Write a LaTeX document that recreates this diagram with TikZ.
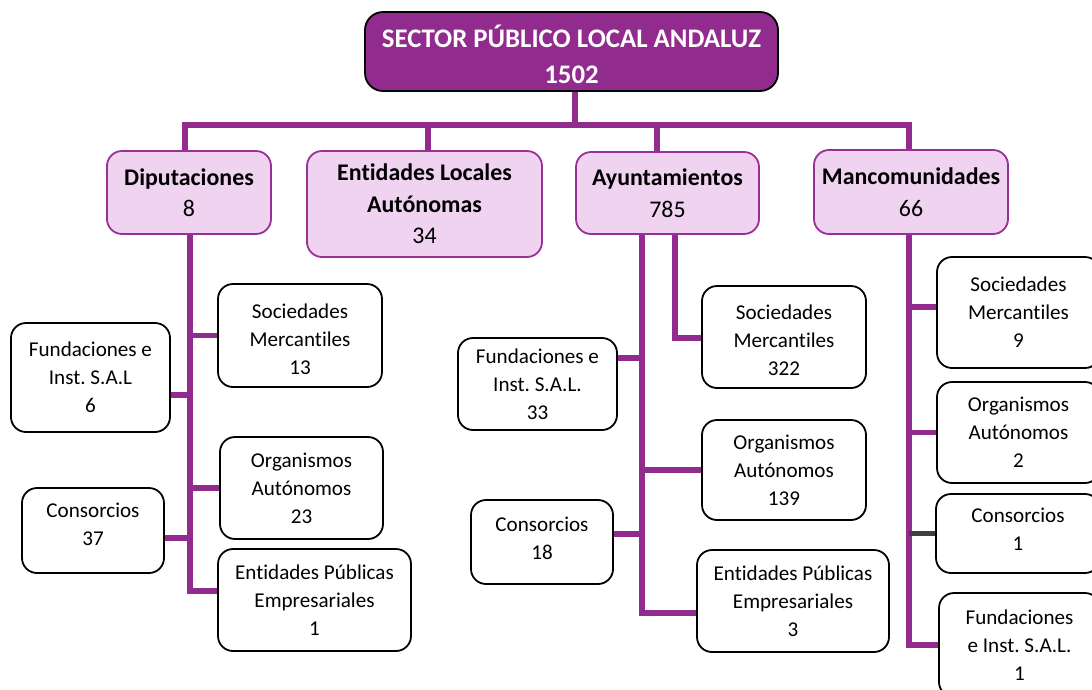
\documentclass[tikz,border=0pt]{standalone}
\usepackage{fontspec}
\setmainfont[Ligatures=NoCommon]{Carlito}
\usetikzlibrary{calc,backgrounds}
\definecolor{pmain}{RGB}{146,43,142}
\definecolor{plight}{RGB}{240,211,240}
\definecolor{pedge}{RGB}{152,48,152}
\definecolor{dgray}{RGB}{64,64,64}
\frenchspacing
\begin{document}
\begin{tikzpicture}[x=1pt,y=-1pt,
 topbox/.style={draw=black, line width=1.8pt, fill=pmain, rounded corners=18pt, inner sep=0pt},
 toptext/.style={text=white, font=\fontsize{26.8}{36}\selectfont\bfseries, align=center, inner sep=0pt},
 headbox/.style={draw=pedge, line width=1.8pt, fill=plight, rounded corners=15pt, font=\fontsize{23.9}{31.5}\selectfont, align=center, inner sep=0pt},
 childbox/.style={draw=black, line width=1.8pt, fill=white, rounded corners=15pt, font=\fontsize{21.1}{28}\selectfont, align=center, inner sep=0pt},
 childtext/.style={font=\fontsize{21.1}{28}\selectfont, align=center, inner sep=0pt},
 conn/.style={draw=pmain, line width=5.5pt, line join=miter},
 connd/.style={draw=dgray, line width=5.5pt},
]
\useasboundingbox (0,0) rectangle (1092,689);
\clip (0,0) rectangle (1092,689);

% top
\node[topbox, minimum width=413pt, minimum height=79pt] (top) at (571.5,51.5) {};
\node[toptext] (topt) at ($(top)+(0,3)$) {SECTOR PÚBLICO LOCAL ANDALUZ\\1502};

% headers
\node[headbox, minimum width=164pt, minimum height=83pt] (dip) at (189,192.5) {\textbf{Diputaciones}\\8};
\node[headbox, minimum width=235pt, minimum height=106pt] (ela) at (424.5,204) {\textbf{Entidades Locales}\\\textbf{Autónomas}\\34};
\node[headbox, minimum width=183pt, minimum height=82pt] (ayu) at (667.5,193) {\textbf{Ayuntamientos}\\785};
\node[headbox, minimum width=194pt, minimum height=84pt] (man) at (911,192) {\textbf{Mancomunidades}\\66};

% Diputaciones children
\node[childbox, minimum width=164pt, minimum height=103pt] (sm13) at (300,335.5) {};
\node[childtext] (sm13t) at ($(sm13)+(0,4)$) {Sociedades\\Mercantiles\\13};
\node[childbox, minimum width=159pt, minimum height=109pt] (fund6) at (90.5,377.5) {Fundaciones e\\Inst. S.A.L\\6};
\node[childbox, minimum width=163pt, minimum height=102pt] (org23) at (301.5,488) {Organismos\\Autónomos\\23};
\node[childbox, minimum width=142pt, minimum height=85pt] (con37) at (93,530.5) {};
\node[childtext] (con37t) at ($(con37)+(0,-6)$) {Consorcios\\37};
\node[childbox, minimum width=193pt, minimum height=102pt] (epe1) at (314.5,600) {Entidades Públicas\\Empresariales\\1};

% Ayuntamientos children
\node[childbox, minimum width=164pt, minimum height=102pt] (sm322) at (784,337) {};
\node[childtext] (sm322t) at ($(sm322)+(0,3)$) {Sociedades\\Mercantiles\\322};
\node[childbox, minimum width=159pt, minimum height=92pt] (fund33) at (537.5,384) {Fundaciones e\\Inst. S.A.L.\\33};
\node[childbox, minimum width=164pt, minimum height=100pt] (org139) at (784,470) {Organismos\\Autónomos\\139};
\node[childbox, minimum width=142pt, minimum height=84pt] (con18) at (542,542) {};
\node[childtext] (con18t) at ($(con18)+(0,-4)$) {Consorcios\\18};
\node[childbox, minimum width=192pt, minimum height=102pt] (epe3) at (793,601) {Entidades Públicas\\Empresariales\\3};

% Mancomunidades children
\node[childbox, minimum width=163pt, minimum height=111pt] (sm9) at (1018.5,312.5) {Sociedades\\Mercantiles\\9};
\node[childbox, minimum width=163pt, minimum height=101pt] (org2) at (1018.5,432.5) {Organismos\\Autónomos\\2};
\node[childbox, minimum width=164pt, minimum height=79pt] (con1) at (1018,533.5) {};
\node[childtext] (con1t) at ($(con1)+(0,-4)$) {Consorcios\\1};
\node[childbox, minimum width=161pt, minimum height=104pt] (fund1) at (1019.5,645) {Fundaciones\\e Inst. S.A.L.\\1};

% coordinates
\coordinate (vT) at (575,125);
\coordinate (busL) at (185,125);
\coordinate (busR) at (909,125);
\coordinate (dT) at (190,591);
\coordinate (dF) at (190,395);
\coordinate (dC) at (190,538);
\coordinate (aT) at (642,613);
\coordinate (aS) at (675,338);
\coordinate (aF) at (642,358);
\coordinate (aC) at (642,534);
\coordinate (mT) at (909,645);
\coordinate (mS) at (909,307);

\begin{scope}[on background layer]
\draw[conn] (top.south -| vT) -- (vT);
\draw[conn] (busL |- dip.north) -- (busL) -- (busR) -- (busR |- man.north);
\draw[conn] (ela.north -| 428,0) -- (428,125);
\draw[conn] (ayu.north -| 657,0) -- (657,125);
% Diputaciones
\draw[conn] (dip.south -| dT) -- (dT) -- (dT -| epe1.west);
\draw[conn] (sm13.west) -- (sm13.west -| dT);
\draw[conn] (dF -| fund6.east) -- (dF);
\draw[conn] (org23.west) -- (org23.west -| dT);
\draw[conn] (dC -| con37.east) -- (dC);
% Ayuntamientos
\draw[conn] (ayu.south -| aT) -- (aT) -- (aT -| epe3.west);
\draw[conn] (ayu.south -| aS) -- (aS) -- (aS -| sm322.west);
\draw[conn] (aF -| fund33.east) -- (aF);
\draw[conn] (org139.west) -- (org139.west -| aT);
\draw[conn] (aC -| con18.east) -- (aC);
% Mancomunidades
\draw[conn] (man.south -| mT) -- (mT) -- (mT -| fund1.west);
\draw[conn] (mS) -- (mS -| sm9.west);
\draw[conn] (org2.west -| mT) -- (org2.west);
\draw[connd] (con1.west -| mT) -- (con1.west);
\end{scope}
\end{tikzpicture}
\end{document}
